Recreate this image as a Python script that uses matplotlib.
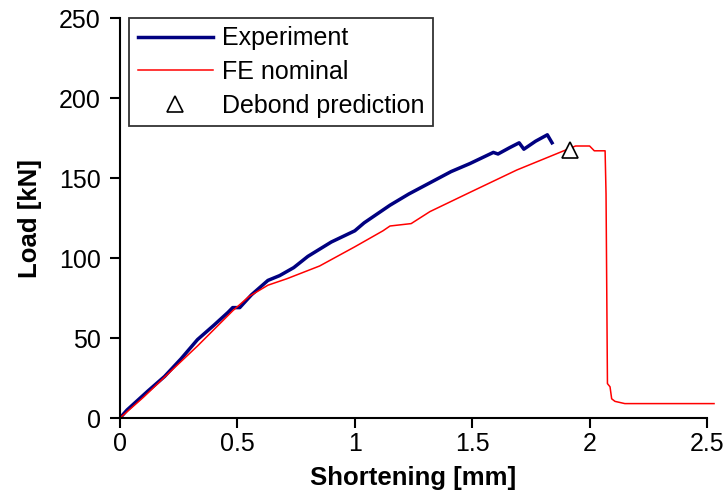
import numpy as np
import matplotlib
matplotlib.use("Agg")
import matplotlib.pyplot as plt

plt.rcParams['font.family'] = ['Liberation Sans', 'DejaVu Sans']

# experiment curve
exp_x = [0, 0.03, 0.06, 0.12, 0.19, 0.26, 0.33, 0.40, 0.46, 0.48, 0.51, 0.56,
         0.63, 0.68, 0.74, 0.80, 0.90, 1.00, 1.04, 1.10, 1.15, 1.23, 1.32,
         1.41, 1.49, 1.59, 1.61, 1.66, 1.70, 1.72, 1.77, 1.82, 1.84]
exp_y = [0, 5, 9, 17, 26, 37, 49, 58, 66, 69, 69, 77,
         86, 89, 94, 101, 110, 117, 122, 128, 133, 140, 147,
         154, 159, 166, 165, 169, 172, 168, 173, 177, 172]

# FE nominal curve
fe_x = [0, 0.1, 0.2, 0.33, 0.48, 0.55, 0.63, 0.71, 0.85, 1.00, 1.12, 1.15,
        1.24, 1.32, 1.49, 1.69, 1.89, 1.94, 2.00, 2.02, 2.066, 2.070, 2.076,
        2.087, 2.094, 2.108, 2.15, 2.53]
fe_y = [0, 13, 27, 45, 67, 76, 83, 87, 95, 107, 117, 120,
        121.5, 129, 141, 155, 167, 170, 170, 167, 167, 140, 21.5,
        19.5, 12, 10.4, 9, 9]

# debond prediction point
debond_x = [1.917]
debond_y = [167.7]

x_ticks = [0, 0.5, 1, 1.5, 2, 2.5]
x_labels = ['0', '0.5', '1', '1.5', '2', '2.5']
y_ticks = [0, 50, 100, 150, 200, 250]

fig = plt.figure(figsize=(7.27, 4.92), dpi=100)
ax = fig.add_axes([120/727, 74/492, 587/727, 400/492])

ax.plot(exp_x, exp_y, color='#000080', lw=2.5, label='Experiment')
ax.plot(fe_x, fe_y, color='#ff0000', lw=1.1, label='FE nominal', clip_on=False)
ax.plot(debond_x, debond_y, ls='none', marker='^', ms=12, mfc='white',
        mec='black', mew=1.2, label='Debond prediction')

ax.set_xlim(0, 2.5)
ax.set_ylim(0, 250)
ax.set_xticks(x_ticks)
ax.set_xticklabels(x_labels)
ax.set_yticks(y_ticks)

for s in ['top', 'right']:
    ax.spines[s].set_visible(False)
for s in ['left', 'bottom']:
    ax.spines[s].set_linewidth(1.5)

ax.tick_params(direction='out', length=7, width=1.5, labelsize=18)
ax.tick_params(axis='y', pad=7)
ax.tick_params(axis='x', pad=3)
ax.set_xlabel('Shortening [mm]', fontsize=18.5, fontweight='bold', labelpad=7)
ax.set_ylabel('Load [kN]', fontsize=18.5, fontweight='bold', labelpad=12)

leg = ax.legend(loc='upper left', bbox_to_anchor=(129/727, 1 - 18/492),
                bbox_transform=fig.transFigure, fontsize=18, frameon=True,
                fancybox=False, edgecolor='black', borderaxespad=0,
                handlelength=3.0, handletextpad=0.37, labelspacing=0.38,
                borderpad=0.34)
leg.get_frame().set_linewidth(1.3)

fig.savefig('out.png', dpi=100)
